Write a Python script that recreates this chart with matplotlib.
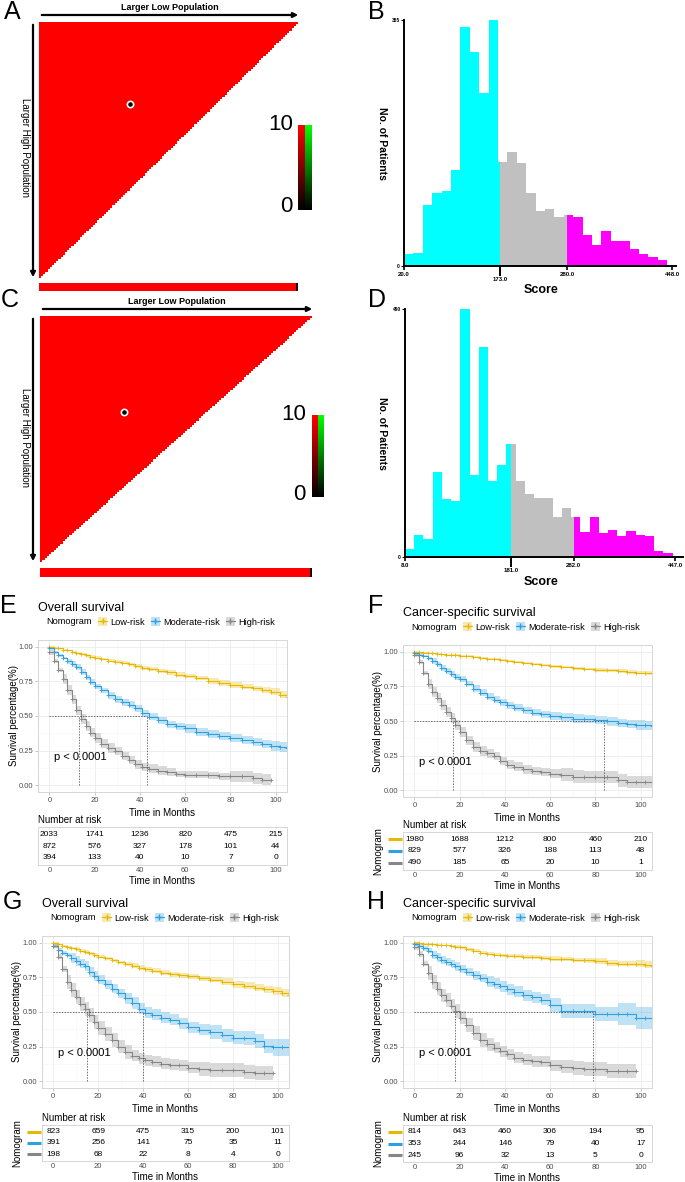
import numpy as np
import matplotlib
matplotlib.use("Agg")
import matplotlib.pyplot as plt
import matplotlib.transforms as mtrans
from matplotlib.colors import LinearSegmentedColormap
from matplotlib.patches import Patch
from matplotlib.lines import Line2D

plt.rcParams["font.family"] = ["Liberation Sans", "DejaVu Sans"]

W, H = 685, 1182

# ---------------- data ----------------
# X-tile plots (A, C)
xtile_max_chi = 10
A_cut = (35, 32)
C_cut = (31, 39)

# score histograms (B, D)
B_start, B_bin = 20, 15
B_counts = [18, 19, 88, 106, 108, 138, 345, 309, 249, 355, 150, 165, 148, 106,
            80, 82, 71, 74, 70, 45, 31, 50, 36, 36, 25, 17, 13, 8]
B_cuts = [20, 173, 280, 454]
B_ticks = [20, 280, 448]
B_ymax = 355

D_start, D_bin = 8, 15
D_counts = [15, 44, 36, 167, 115, 110, 490, 162, 414, 151, 181, 223, 151, 125,
            117, 117, 79, 97, 79, 50, 79, 47, 53, 42, 51, 43, 42, 11, 7, 1]
D_cuts = [8, 181, 282, 460]
D_ticks = [8, 282, 447]
D_ymax = 490

# Kaplan-Meier curves (E-H)
months = [0, 2, 4, 6, 8, 10, 12, 14, 16, 18, 20, 23, 26, 29, 32, 35, 38, 41, 44,
          48, 52, 56, 60, 65, 70, 75, 80, 85, 90, 94, 98, 102, 105]
groups = ["Low-risk", "Moderate-risk", "High-risk"]
colors = ["#E7B800", "#2E9FDF", "#868686"]

E_low = [1.00, 0.995, 0.99, 0.98, 0.975, 0.965, 0.955, 0.948, 0.94, 0.93, 0.922,
         0.912, 0.90, 0.893, 0.885, 0.875, 0.862, 0.85, 0.84, 0.826, 0.815, 0.80,
         0.787, 0.772, 0.755, 0.74, 0.725, 0.712, 0.70, 0.69, 0.675, 0.655, 0.64]
E_mod = [0.99, 0.96, 0.94, 0.92, 0.895, 0.875, 0.855, 0.82, 0.78, 0.745, 0.715,
         0.685, 0.65, 0.62, 0.60, 0.58, 0.555, 0.52, 0.495, 0.47, 0.44, 0.425,
         0.41, 0.385, 0.37, 0.355, 0.34, 0.325, 0.31, 0.295, 0.285, 0.275, 0.27]
E_high = [0.96, 0.90, 0.83, 0.77, 0.69, 0.62, 0.54, 0.48, 0.43, 0.38, 0.34, 0.30,
          0.27, 0.245, 0.21, 0.18, 0.15, 0.13, 0.12, 0.105, 0.095, 0.08, 0.075,
          0.075, 0.07, 0.065, 0.063, 0.063, 0.05, 0.04, 0.04]
E_low_ci = [0.005] * 6 + [0.01] * 10 + [0.015] * 8 + [0.02] * 6 + [0.025] * 3
E_mod_ci = [0.01] * 4 + [0.02] * 8 + [0.025] * 10 + [0.03] * 8 + [0.035] * 3
E_high_ci = [0.015] * 3 + [0.035] * 10 + [0.03] * 8 + [0.025] * 5 + [0.04] * 5
E_medians = [13, 43]
E_risk = [[2033, 1741, 1236, 820, 475, 215],
          [872, 576, 327, 178, 101, 44],
          [394, 133, 40, 10, 7, 0]]

F_low = [1.0, 0.998, 0.995, 0.992, 0.99, 0.987, 0.984, 0.981, 0.978, 0.976, 0.973,
         0.968, 0.963, 0.958, 0.952, 0.946, 0.94, 0.933, 0.927, 0.92, 0.913, 0.905,
         0.897, 0.89, 0.882, 0.876, 0.871, 0.866, 0.86, 0.855, 0.85, 0.847, 0.845]
F_mod = [0.99, 0.98, 0.97, 0.955, 0.935, 0.91, 0.885, 0.86, 0.84, 0.82, 0.805,
         0.77, 0.735, 0.705, 0.675, 0.655, 0.635, 0.615, 0.595, 0.578, 0.56, 0.548,
         0.537, 0.527, 0.518, 0.512, 0.506, 0.497, 0.485, 0.478, 0.472, 0.468, 0.465]
F_high = [0.98, 0.93, 0.85, 0.77, 0.71, 0.665, 0.615, 0.565, 0.52, 0.47, 0.42, 0.36,
          0.31, 0.285, 0.265, 0.245, 0.21, 0.185, 0.17, 0.15, 0.137, 0.133, 0.12,
          0.112, 0.097, 0.096, 0.096, 0.096, 0.07, 0.06, 0.06, 0.06, 0.06]
F_low_ci = [0.003] * 8 + [0.007] * 10 + [0.01] * 8 + [0.013] * 7
F_mod_ci = [0.01] * 4 + [0.02] * 8 + [0.025] * 10 + [0.03] * 8 + [0.035] * 3
F_high_ci = [0.015] * 3 + [0.035] * 12 + [0.03] * 8 + [0.045] * 10
F_medians = [17, 84]
F_risk = [[1980, 1688, 1212, 800, 460, 210],
          [829, 577, 326, 188, 113, 48],
          [490, 185, 65, 20, 10, 1]]

G_low = [1.0, 0.99, 0.98, 0.972, 0.965, 0.955, 0.945, 0.935, 0.925, 0.912, 0.90,
         0.888, 0.874, 0.86, 0.848, 0.835, 0.82, 0.808, 0.798, 0.785, 0.772, 0.765,
         0.758, 0.745, 0.733, 0.718, 0.70, 0.69, 0.675, 0.665, 0.652, 0.64, 0.626]
G_mod = [0.98, 0.95, 0.93, 0.91, 0.89, 0.87, 0.85, 0.835, 0.79, 0.76, 0.735, 0.70,
         0.67, 0.635, 0.60, 0.565, 0.525, 0.495, 0.48, 0.46, 0.445, 0.42, 0.39,
         0.37, 0.355, 0.33, 0.315, 0.312, 0.29, 0.255, 0.245, 0.245, 0.245]
G_high = [0.98, 0.90, 0.81, 0.72, 0.66, 0.61, 0.56, 0.52, 0.48, 0.43, 0.385, 0.34,
          0.295, 0.25, 0.21, 0.185, 0.165, 0.15, 0.14, 0.125, 0.12, 0.115, 0.095,
          0.09, 0.082, 0.08, 0.08, 0.063, 0.06, 0.06, 0.06]
G_low_ci = [0.005] * 5 + [0.012] * 10 + [0.018] * 10 + [0.025] * 5 + [0.03] * 3
G_mod_ci = [0.015] * 4 + [0.035] * 10 + [0.04] * 10 + [0.05] * 6 + [0.06] * 3
G_high_ci = [0.02] * 3 + [0.05] * 12 + [0.04] * 8 + [0.05] * 8
G_medians = [15, 40]
G_risk = [[823, 659, 475, 315, 200, 101],
          [391, 256, 141, 75, 35, 11],
          [198, 68, 22, 8, 4, 0]]

H_low = [1.0, 0.998, 0.995, 0.993, 0.99, 0.988, 0.985, 0.982, 0.978, 0.972, 0.968,
         0.955, 0.943, 0.93, 0.922, 0.915, 0.91, 0.908, 0.905, 0.9, 0.895, 0.89,
         0.887, 0.882, 0.878, 0.873, 0.87, 0.855, 0.85, 0.85, 0.848, 0.843, 0.833]
H_mod = [0.99, 0.975, 0.96, 0.945, 0.91, 0.895, 0.875, 0.86, 0.845, 0.83, 0.812,
         0.79, 0.765, 0.745, 0.72, 0.705, 0.685, 0.665, 0.645, 0.62, 0.605, 0.59,
         0.55, 0.505, 0.505, 0.505, 0.485, 0.484, 0.484, 0.484, 0.458, 0.458, 0.458]
H_high = [0.97, 0.92, 0.85, 0.78, 0.72, 0.67, 0.62, 0.585, 0.545, 0.505, 0.46,
          0.405, 0.35, 0.296, 0.265, 0.24, 0.215, 0.195, 0.17, 0.155, 0.145, 0.14,
          0.116, 0.105, 0.092, 0.088, 0.087, 0.072, 0.072, 0.072, 0.072]
H_low_ci = [0.003] * 8 + [0.01] * 10 + [0.015] * 8 + [0.02] * 4 + [0.025] * 3
H_mod_ci = [0.015] * 4 + [0.03] * 10 + [0.04] * 8 + [0.05] * 6 + [0.08] * 5
H_high_ci = [0.02] * 3 + [0.05] * 12 + [0.04] * 8 + [0.05] * 8
H_medians = [18, 79]
H_risk = [[814, 643, 460, 306, 194, 95],
          [353, 244, 146, 79, 40, 17],
          [245, 96, 32, 13, 5, 0]]

risk_times = [0, 20, 40, 60, 80, 100]

# ---------------- helpers ----------------
fig = plt.figure(figsize=(W / 100, H / 100), dpi=100)


def rect(x0, y0, x1, y1):
    return [x0 / W, 1 - y1 / H, (x1 - x0) / W, (y1 - y0) / H]


deco = fig.add_axes([0, 0, 1, 1])
deco.set_xlim(0, W)
deco.set_ylim(H, 0)
deco.axis("off")

black_red = LinearSegmentedColormap.from_list("br", ["black", "#ff0000"])
black_green = LinearSegmentedColormap.from_list("bg", ["black", "#00ff00"])


def xtile(tri_box, strip_box, cbar_box, cut):
    ax = fig.add_axes(rect(*tri_box))
    n = 120
    i, j = np.indices((n, n))
    tri = np.where(i + j < n, xtile_max_chi, np.nan)
    ax.imshow(tri, cmap=black_red, vmin=0, vmax=xtile_max_chi, extent=(0, 100, 100, 0),
              interpolation="nearest", aspect="auto")
    ax.plot(cut[0], cut[1], "o", ms=4.5, mfc="black", mec="white", mew=1.2)
    ax.set_xlim(0, 100)
    ax.set_ylim(100, 0)
    ax.axis("off")

    ax = fig.add_axes(rect(*strip_box))
    strip = np.full((1, n), float(xtile_max_chi))
    strip[0, -1] = 1
    ax.imshow(strip, cmap=black_red, vmin=0, vmax=xtile_max_chi, aspect="auto",
              interpolation="nearest")
    ax.axis("off")

    ax = fig.add_axes(rect(*cbar_box))
    grad = np.linspace(0, xtile_max_chi, 64)[:, None]
    ax.imshow(grad, cmap=black_red, extent=(0, 1, 0, 10), origin="lower", aspect="auto")
    ax.imshow(grad, cmap=black_green, extent=(1, 2, 0, 10), origin="lower", aspect="auto")
    ax.set_xlim(0, 2)
    ax.set_ylim(0, 10)
    ax.axis("off")


def hist(box, start, width, counts, cuts, ymax, ticks, cut_tick):
    ax = fig.add_axes(rect(*box))
    edges = start + width * np.arange(len(counts) + 1)
    for lo, hi, n in zip(edges[:-1], edges[1:], counts):
        for c0, c1, col in zip(cuts[:-1], cuts[1:], ["#00ffff", "#c0c0c0", "#ff00ff"]):
            a, b = max(lo, c0), min(hi, c1)
            if b > a:
                ax.bar(a, n, width=b - a, align="edge", color=col, lw=0)
    ax.set_xlim(start, cuts[-1])
    ax.set_ylim(0, ymax)
    for s in ["top", "right"]:
        ax.spines[s].set_visible(False)
    for s in ["left", "bottom"]:
        ax.spines[s].set_linewidth(1.4)
    ax.set_yticks([0, ymax])
    ax.set_yticklabels(["0", str(ymax)], fontsize=3.5, fontweight="bold")
    ax.set_xticks(ticks)
    ax.set_xticklabels([f"{v:.1f}" for v in ticks], fontsize=4.3, fontweight="bold")
    ax.set_xticks([cut_tick], minor=True)
    ax.set_xticklabels([f"{cut_tick:.1f}"], minor=True, fontsize=4.3, fontweight="bold")
    ax.tick_params(axis="x", which="major", length=3, width=1.2, pad=1.5)
    ax.tick_params(axis="x", which="minor", length=7, width=1.4, pad=1)
    ax.tick_params(axis="y", length=2, width=0.8, pad=1)


def km(box, curves, cis, medians, table_box, risk, colored):
    ax = fig.add_axes(rect(*box))
    for surv, ci, col in zip(curves, cis, colors):
        t = np.array(months[:len(surv)])
        s = np.array(surv)
        c = np.array(ci)
        ax.fill_between(t, s - c, s + c, step="post", color=col, alpha=0.3, lw=0)
        ax.step(t, s, where="post", color=col, lw=0.8)
        ax.plot(t, s, "+", color=col, ms=3.5, mew=0.6)
    ax.plot([0, max(medians)], [0.5, 0.5], ls=(0, (2, 2)), color="#333333", lw=0.5)
    for m in medians:
        ax.plot([m, m], [0, 0.5], ls=(0, (2, 2)), color="#333333", lw=0.5)
    ax.text(2, 0.2, "p < 0.0001", fontsize=8, ha="left", va="center")
    ax.set_xlim(-5, 105)
    ax.set_ylim(-0.05, 1.05)
    ax.set_xticks(risk_times)
    ax.set_yticks([0, 0.25, 0.5, 0.75, 1.0])
    ax.set_yticklabels(["0.00", "0.25", "0.50", "0.75", "1.00"])
    ax.set_xticks([10, 30, 50, 70, 90], minor=True)
    ax.set_yticks([0.125, 0.375, 0.625, 0.875], minor=True)
    ax.grid(which="major", color="#ebebeb", lw=0.6)
    ax.grid(which="minor", color="#f5f5f5", lw=0.4)
    ax.set_axisbelow(True)
    for s in ax.spines.values():
        s.set_color("#d6d6d6")
        s.set_linewidth(0.7)
    ax.tick_params(which="major", length=2, width=0.5, color="#b0b0b0", labelsize=5.5,
                   labelcolor="#4d4d4d", pad=1.5)
    ax.tick_params(which="minor", length=0)

    handles = [(Patch(facecolor=c, alpha=0.3, edgecolor="none"),
                Line2D([], [], color=c, marker="+", lw=0.8, ms=4)) for c in colors]

    tb = fig.add_axes(rect(*table_box))
    for r, vals in enumerate(risk):
        for t, v in zip(risk_times, vals):
            tb.text(t, r, str(v), ha="center", va="center", fontsize=6)
    tb.set_xlim(-5, 105)
    tb.set_ylim(2.6, -0.6)
    tb.set_xticks(risk_times)
    tb.set_yticks([])
    tb.grid(axis="x", color="#f0f0f0", lw=0.5)
    tb.set_axisbelow(True)
    for s in tb.spines.values():
        s.set_color("#d6d6d6")
        s.set_linewidth(0.7)
    tb.tick_params(length=0, labelsize=5.5, labelcolor="#4d4d4d", pad=1.5)
    tb.text(0, 1.06, "Number at risk", transform=tb.transAxes, fontsize=7,
            ha="left", va="bottom")
    if colored:
        tr = mtrans.blended_transform_factory(tb.transAxes, tb.transData)
        for r, c in enumerate(colors):
            tb.plot([-0.062, -0.006], [r, r], transform=tr, color=c, lw=2.2,
                    clip_on=False, solid_capstyle="butt")
    return ax, handles


# ---------------- panels A, C ----------------
xtile((39, 22, 298, 278), (39, 283, 298, 291), (298, 125, 311, 210), A_cut)
xtile((40, 316, 312, 562), (40, 568, 312, 577), (312, 415, 324, 497), C_cut)

arrow = dict(arrowstyle="-|>", lw=1.6, color="black", mutation_scale=7)
deco.annotate("", xy=(301, 15), xytext=(39, 15), arrowprops=arrow)
deco.annotate("", xy=(33, 280), xytext=(33, 22), arrowprops=arrow)
deco.annotate("", xy=(315, 309), xytext=(40, 309), arrowprops=arrow)
deco.annotate("", xy=(33, 564), xytext=(33, 316), arrowprops=arrow)
for x, y in [(170, 7), (177, 302)]:
    deco.text(x, y, "Larger Low Population", fontsize=6.5, fontweight="bold",
              ha="center", va="center")
for x, y in [(25, 148), (25, 437)]:
    deco.text(x, y, "Larger High Population", fontsize=7, rotation=270,
              ha="center", va="center")
for x, y0, y1 in [(293, 125, 207), (306, 415, 495)]:
    deco.text(x, y0, "10", fontsize=16, ha="right", va="center")
    deco.text(x, y1, "0", fontsize=16, ha="right", va="center")

# ---------------- panels B, D ----------------
hist((404, 20, 676, 266), B_start, B_bin, B_counts, B_cuts, B_ymax, B_ticks, 173)
hist((405, 309, 683, 557), D_start, D_bin, D_counts, D_cuts, D_ymax, D_ticks, 181)
for y0, y1 in [(143, 290), (433, 582)]:
    deco.text(382, y0, "No. of Patients", fontsize=7.5, fontweight="bold", rotation=270,
              ha="center", va="center")
    deco.text(541, y1, "Score", fontsize=9, fontweight="bold", ha="center", va="center")

# ---------------- panels E-H ----------------
panels = [
    ((38, 640, 287, 792), [E_low, E_mod, E_high], [E_low_ci, E_mod_ci, E_high_ci],
     E_medians, (38, 827, 287, 865), E_risk, False, "Overall survival"),
    ((403, 645, 652, 797), [F_low, F_mod, F_high], [F_low_ci, F_mod_ci, F_high_ci],
     F_medians, (403, 832, 652, 870), F_risk, True, "Cancer-specific survival"),
    ((42, 936, 289, 1088), [G_low, G_mod, G_high], [G_low_ci, G_mod_ci, G_high_ci],
     G_medians, (42, 1125, 289, 1161), G_risk, True, "Overall survival"),
    ((403, 936, 652, 1088), [H_low, H_mod, H_high], [H_low_ci, H_mod_ci, H_high_ci],
     H_medians, (403, 1125, 652, 1162), H_risk, True, "Cancer-specific survival"),
]
ylab_x = [14, 378, 17, 378]
for (box, curves, cis, med, tbox, risk, colored, title), yx in zip(panels, ylab_x):
    ax, handles = km(box, curves, cis, med, tbox, risk, colored)
    x0, y0, x1, y1 = box
    cx = (x0 + x1) / 2
    deco.text(x0, y0 - 32, title, fontsize=9, ha="left", va="center")
    deco.text(x0 + 8, y0 - 18, "Nomogram", fontsize=6.7, ha="left", va="center")
    ax.legend(handles, groups, ncol=3, loc="center left",
              bbox_to_anchor=((x0 + 60) / W, 1 - (y0 - 18) / H),
              bbox_transform=fig.transFigure, frameon=False, fontsize=6.7,
              handlelength=1.0, handleheight=1.0, handletextpad=0.35,
              columnspacing=0.6, borderpad=0, borderaxespad=0)
    deco.text(yx, (y0 + y1) / 2, "Survival percentage(%)", fontsize=7, rotation=90,
              ha="center", va="center")
    deco.text(cx, y1 + 21, "Time in Months", fontsize=7, ha="center", va="center")
    deco.text(cx, tbox[3] + 16, "Time in Months", fontsize=7, ha="center", va="center")
    if colored:
        deco.text(yx, (tbox[1] + tbox[3]) / 2, "Nomogram", fontsize=7, rotation=90,
                  ha="center", va="center")

# panel letters
for letter, x, y in [("A", 12, 12), ("B", 376, 12), ("C", 10, 300), ("D", 377, 300),
                     ("E", 8, 606), ("F", 376, 606), ("G", 12, 902), ("H", 376, 902)]:
    deco.text(x, y, letter, fontsize=18, ha="center", va="center")

fig.savefig("out.png", dpi=100)
